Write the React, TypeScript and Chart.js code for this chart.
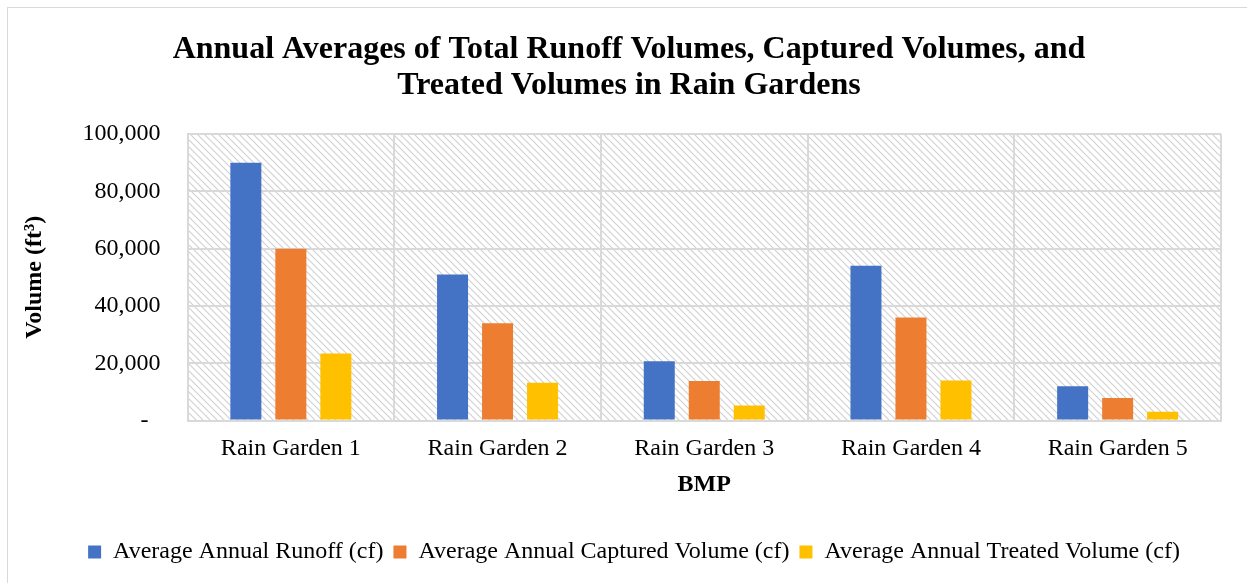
import React, { useEffect, useRef } from 'react';
import { Chart, registerables } from 'chart.js';

Chart.register(...registerables);

const categories = ['Rain Garden 1', 'Rain Garden 2', 'Rain Garden 3', 'Rain Garden 4', 'Rain Garden 5'];
const seriesNames = [
  'Average Annual Runoff (cf)',
  'Average Annual Captured Volume (cf)',
  'Average Annual Treated Volume (cf)',
];
const runoff = [90000, 51000, 20700, 54000, 12000];
const captured = [60000, 34000, 13800, 36000, 7900];
const treated = [23400, 13200, 5300, 14000, 3100];
const seriesColors = ['#4472C4', '#ED7D31', '#FFC000'];
const yMin = 0;
const yMax = 100000;
const yStep = 20000;
const titleLines = [
  'Annual Averages of Total Runoff Volumes, Captured Volumes, and',
  'Treated Volumes in Rain Gardens',
];
const xTitle = 'BMP';
const yTitle = 'Volume (ft³)';

const SERIF = "'Liberation Serif', 'Times New Roman', serif";
const GRID = '#d9d9d9';

const hatchPlugin = {
  id: 'hatchBg',
  beforeDraw(chart: any) {
    const { ctx, chartArea: a } = chart;
    const size = 7;
    const tile = document.createElement('canvas');
    tile.width = size;
    tile.height = size;
    const t = tile.getContext('2d')!;
    t.fillStyle = '#ffffff';
    t.fillRect(0, 0, size, size);
    t.strokeStyle = '#d2d2d2';
    t.lineWidth = 1.2;
    t.beginPath();
    t.moveTo(-1, -1);
    t.lineTo(size + 1, size + 1);
    t.moveTo(-1, size - 1);
    t.lineTo(1, size + 1);
    t.moveTo(size - 1, -1);
    t.lineTo(size + 1, 1);
    t.stroke();
    const pat = ctx.createPattern(tile, 'repeat');
    ctx.save();
    ctx.fillStyle = pat;
    ctx.fillRect(a.left, a.top, a.right - a.left, a.bottom - a.top);
    ctx.restore();
  },
};

const blockShift = {
  id: 'blockShift',
  afterLayout(chart: any) {
    const l = chart.legend;
    if (l) {
      l.left += 14;
      l.right += 14;
    }
    const t = chart.titleBlock;
    if (t) {
      t.left += 9;
      t.right += 9;
    }
  },
};

export default function App() {
  const ref = useRef<HTMLCanvasElement>(null);

  useEffect(() => {
    if (!ref.current) return;
    const values = [runoff, captured, treated];
    const chart = new Chart(ref.current, {
      type: 'bar',
      data: {
        labels: categories,
        datasets: seriesNames.map((name, i) => ({
          label: name,
          data: values[i],
          backgroundColor: seriesColors[i],
          borderWidth: 0,
          categoryPercentage: 0.653,
          barPercentage: 0.689,
        })),
      },
      plugins: [hatchPlugin, blockShift],
      options: {
        animation: false,
        responsive: true,
        maintainAspectRatio: false,
        layout: { padding: { left: 19, right: 26, top: 0, bottom: 9 } },
        plugins: {
          title: {
            display: true,
            text: titleLines,
            color: '#000',
            font: { family: SERIF, size: 32, weight: 'bold', lineHeight: 1.125 },
            padding: { top: 32, bottom: 30 },
          },
          legend: {
            position: 'bottom',
            labels: {
              color: '#000',
              font: { family: SERIF, size: 24 },
              boxWidth: 13,
              boxHeight: 13,
              padding: 10,
            },
          },
          tooltip: { enabled: false },
        },
        scales: {
          x: {
            afterFit(scale: any) {
              scale.height = 109.4;
            },
            grid: { color: GRID, lineWidth: 2, drawTicks: false, offset: true },
            border: { color: GRID, width: 2 },
            ticks: {
              color: '#000',
              font: { family: SERIF, size: 24 },
              padding: 14,
              maxRotation: 0,
              autoSkip: false,
            },
            title: {
              display: true,
              text: xTitle,
              color: '#000',
              font: { family: SERIF, size: 24, weight: 'bold' },
              padding: { top: 0, bottom: 31 },
            },
          },
          y: {
            min: yMin,
            max: yMax,
            afterFit(scale: any) {
              scale.width = 168.5;
            },
            grid: { color: GRID, lineWidth: 2, drawTicks: false },
            border: { color: GRID, width: 2 },
            ticks: {
              stepSize: yStep,
              color: '#000',
              font: { family: SERIF, size: 24 },
              padding: 27,
              callback: (v: any) => (Number(v) === 0 ? '-  ' : Number(v).toLocaleString('en-US')),
            },
            title: {
              display: true,
              text: yTitle,
              color: '#000',
              font: { family: SERIF, size: 24, weight: 'bold' },
              padding: { top: 1, bottom: 0 },
            },
          },
        },
      },
    });
    return () => chart.destroy();
  }, []);

  return (
    <div style={{ position: 'absolute', left: 0, top: 0, width: 1247, height: 583, overflow: 'hidden', background: '#fff' }}>
      <div style={{ position: 'absolute', left: 7, top: 7, width: 1260, height: 600, border: '1px solid #d9d9d9', boxSizing: 'border-box' }} />
      <div style={{ position: 'absolute', left: 0, top: 0, width: 1247, height: 583 }}>
        <canvas ref={ref} />
      </div>
    </div>
  );
}
